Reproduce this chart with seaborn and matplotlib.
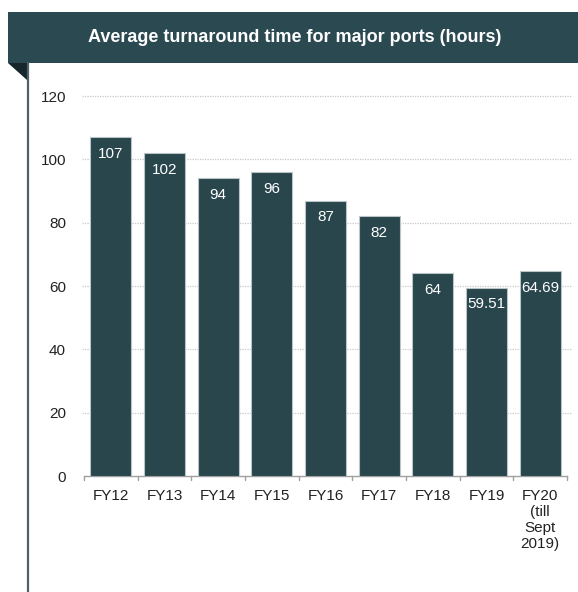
import matplotlib
matplotlib.use("Agg")
import matplotlib.pyplot as plt
import seaborn as sns
import pandas as pd
from matplotlib.patches import Rectangle, Polygon
from matplotlib.lines import Line2D

categories = ["FY12", "FY13", "FY14", "FY15", "FY16", "FY17", "FY18", "FY19", "FY20\n(till\nSept\n2019)"]
values = [107, 102, 94, 96, 87, 82, 64, 59.51, 64.69]
value_labels = ["107", "102", "94", "96", "87", "82", "64", "59.51", "64.69"]
yticks = [0, 20, 40, 60, 80, 100, 120]
title = "Average turnaround time for major ports (hours)"

sns.set_theme(style="white")
plt.rcParams["font.family"] = ["Liberation Sans", "DejaVu Sans"]

W, H = 578, 592
fig = plt.figure(figsize=(W / 100, H / 100), dpi=100)

def fx(px):
    return px / W

def fy(py):
    return 1 - py / H

bar_color = "#29464d"
banner_color = "#2b4951"

# banner
fig.patches.append(Rectangle((fx(8), fy(63)), fx(578 - 8), fy(12) - fy(63),
                             transform=fig.transFigure, facecolor=banner_color,
                             edgecolor="none", zorder=0))
fig.patches.append(Polygon([(fx(8), fy(63)), (fx(27), fy(63)), (fx(27), fy(80))],
                           closed=True, transform=fig.transFigure,
                           facecolor="#16262a", edgecolor="none", zorder=0))
fig.lines.append(Line2D([fx(27.5), fx(27.5)], [fy(63), fy(592)], transform=fig.transFigure,
                        color="#4d6166", linewidth=1.6))
fig.text(fx(295), fy(38), title, color="white", fontsize=13, fontweight="bold",
         ha="center", va="center")

ax = fig.add_axes([fx(84), fy(476), fx(567) - fx(84), fy(96) - fy(476)])
df = pd.DataFrame({"cat": categories, "val": values})
sns.barplot(data=df, x="cat", y="val", ax=ax, color=bar_color, width=0.77,
            edgecolor="#b9c4c6", linewidth=0.8, saturation=1, zorder=3)

ax.set_ylim(0, 120)
ax.set_xlim(-0.5, len(categories) - 0.5)
ax.set_yticks(yticks)
ax.set_yticklabels([str(t) for t in yticks], fontsize=11, color="#222222")
ax.set_xlabel("")
ax.set_ylabel("")
for t in yticks[1:]:
    ax.plot([-0.53, len(categories) - 0.42], [t, t], color="#c8c8c8", linewidth=0.9,
            linestyle=(0, (1, 1)), zorder=1, clip_on=False)

ax.tick_params(axis="y", length=0, pad=13)
ax.tick_params(axis="x", length=0, pad=9, labelsize=11, labelcolor="#222222")
for lbl in ax.get_xticklabels():
    lbl.set_va("top")
    lbl.set_linespacing(1.2)

for s in ["top", "right", "left"]:
    ax.spines[s].set_visible(False)
ax.spines["bottom"].set_color("#a0a0a0")
ax.spines["bottom"].set_linewidth(1.0)
for b in range(len(categories) + 1):
    ax.plot([b - 0.5, b - 0.5], [0, -1.3], color="#a0a0a0", linewidth=1.0, clip_on=False)

for i, (v, lab) in enumerate(zip(values, value_labels)):
    ax.annotate(lab, (i, v), xytext=(0, -12), textcoords="offset points",
                ha="center", va="center", color="white", fontsize=11, zorder=5)

fig.savefig("out.png", dpi=100, facecolor="white")
